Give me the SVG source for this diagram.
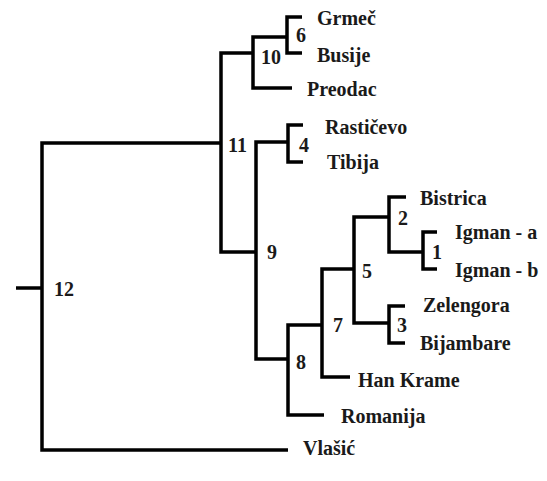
<svg xmlns="http://www.w3.org/2000/svg" width="547" height="481" viewBox="0 0 547 481">
<style>
.e{fill:none;stroke:#000;stroke-width:3.5;stroke-linejoin:miter}
text{font-family:"Liberation Serif","Times New Roman",serif;font-weight:bold;font-size:20px;fill:#1a1a1a}
</style>
<rect width="547" height="481" fill="#fff"/>
<g id="connectors">
<path class="e" d="M16,288 H42"/>
<path class="e" d="M221,143 H42 V450 H288"/>
<path class="e" d="M253,53 H221 V252 H256"/>
<path class="e" d="M287,37 H253 V88 H292"/>
<path class="e" d="M302,17 H287 V53 H302"/>
<path class="e" d="M288,142 H256 V359 H288"/>
<path class="e" d="M303,125 H288 V162 H303"/>
<path class="e" d="M322,325 H288 V415 H324"/>
<path class="e" d="M354,269 H322 V377 H350"/>
<path class="e" d="M389,217 H354 V323 H389"/>
<path class="e" d="M406,197 H389 V252 H423"/>
<path class="e" d="M437,232 H423 V269 H437"/>
<path class="e" d="M405,306 H389 V343 H405"/>
</g>
<g id="n12"><text x="54" y="296">12</text></g>
<g id="n11"><text x="228" y="152">11</text></g>
<g id="n10"><text x="261" y="64">10</text></g>
<g id="n6"><text x="296" y="42">6</text></g>
<g id="n4"><text x="299" y="152">4</text></g>
<g id="n9"><text x="267" y="259">9</text></g>
<g id="n8"><text x="296" y="369">8</text></g>
<g id="n7"><text x="333" y="332">7</text></g>
<g id="n5"><text x="362" y="278">5</text></g>
<g id="n2"><text x="398" y="225">2</text></g>
<g id="n1"><text x="432" y="259">1</text></g>
<g id="n3"><text x="397" y="332">3</text></g>
<g id="grmec"><text x="317" y="25">Grmeč</text></g>
<g id="busije"><text x="317" y="62">Busije</text></g>
<g id="preodac"><text x="307" y="96">Preodac</text></g>
<g id="rasticevo"><text x="325" y="134">Rastičevo</text></g>
<g id="tibija"><text x="327" y="169">Tibija</text></g>
<g id="bistrica"><text x="420" y="205">Bistrica</text></g>
<g id="igman-a"><text x="455" y="239">Igman - a</text></g>
<g id="igman-b"><text x="455" y="277">Igman - b</text></g>
<g id="zelengora"><text x="423" y="312">Zelengora</text></g>
<g id="bijambare"><text x="420" y="350">Bijambare</text></g>
<g id="hankrame"><text x="358" y="387">Han Krame</text></g>
<g id="romanija"><text x="341" y="423">Romanija</text></g>
<g id="vlasic"><text x="303" y="455">Vlašić</text></g>
</svg>
